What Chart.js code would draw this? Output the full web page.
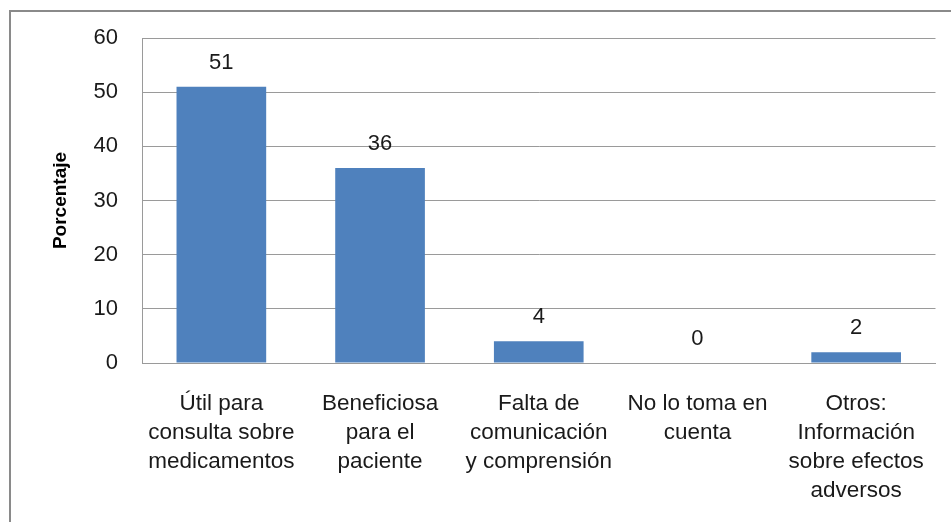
<!DOCTYPE html>
<html>
<head>
<meta charset="utf-8">
<title>Porcentaje</title>
<script src="https://cdn.jsdelivr.net/npm/chart.js@4/dist/chart.umd.min.js"></script>
<style>
  html, body { margin: 0; padding: 0; background: #fff; }
  #wrap { position: relative; width: 951px; height: 522px; }
</style>
</head>
<body>
<div id="wrap"><canvas id="chart" width="951" height="522"></canvas></div>
<script>
// categories and values
const categories = [
    ['Útil para', 'consulta sobre', 'medicamentos'],
    ['Beneficiosa', 'para el', 'paciente'],
    ['Falta de', 'comunicación', 'y comprensión'],
    ['No lo toma en', 'cuenta'],
    ['Otros:', 'Información', 'sobre efectos', 'adversos']
];
const values = [51, 36, 4, 0, 2];
const yTicks = [0, 10, 20, 30, 40, 50, 60];

const FONT = "'Liberation Sans', Arial, sans-serif";

// outer frame of the chart
const framePlugin = {
    id: 'frame',
    beforeDraw(chart) {
        const ctx = chart.ctx;
        ctx.save();
        ctx.strokeStyle = '#8a8a8a';
        ctx.lineWidth = 2;
        ctx.strokeRect(10, 11, 1000, 1000);
        ctx.restore();
    }
};

// value above each bar
const valueLabels = {
    id: 'valueLabels',
    afterDatasetsDraw(chart) {
        const ctx = chart.ctx;
        const meta = chart.getDatasetMeta(0);
        ctx.save();
        ctx.font = '22px ' + FONT;
        ctx.fillStyle = '#1a1a1a';
        ctx.textAlign = 'center';
        ctx.textBaseline = 'middle';
        meta.data.forEach((bar, i) => {
            ctx.fillText(String(values[i]), bar.x, bar.y - 24);
        });
        ctx.restore();
    }
};

new Chart(document.getElementById('chart'), {
    type: 'bar',
    data: {
        labels: categories,
        datasets: [{
            data: values,
            backgroundColor: '#4f81bd',
            borderWidth: 0,
            categoryPercentage: 1,
            barPercentage: 0.565
        }]
    },
    options: {
        responsive: false,
        animation: false,
        events: [],
        layout: { padding: { top: 38, right: 13, bottom: 0, left: 0 } },
        plugins: {
            legend: { display: false },
            tooltip: { enabled: false }
        },
        scales: {
            x: {
                afterFit(scale) { scale.height = 159; },
                grid: { display: false, drawTicks: false },
                border: { color: '#9a9a9a', width: 1 },
                ticks: {
                    color: '#1a1a1a',
                    padding: 26,
                    autoSkip: false,
                    maxRotation: 0,
                    minRotation: 0,
                    font: { family: FONT, size: 22.5, lineHeight: 1.29 }
                }
            },
            y: {
                min: 0,
                max: 60,
                afterFit(scale) { scale.width = 142; },
                afterBuildTicks(scale) {
                    scale.ticks = yTicks.map(v => ({ value: v }));
                },
                grid: { color: '#9a9a9a', drawTicks: false },
                border: { color: '#9a9a9a', width: 1 },
                ticks: {
                    color: '#1a1a1a',
                    padding: 24,
                    font: { family: FONT, size: 22 }
                },
                title: {
                    display: true,
                    text: 'Porcentaje',
                    color: '#000',
                    padding: { top: 49, bottom: 0 },
                    font: { family: FONT, size: 19, weight: 'bold' }
                }
            }
        }
    },
    plugins: [framePlugin, valueLabels]
});
</script>
</body>
</html>
